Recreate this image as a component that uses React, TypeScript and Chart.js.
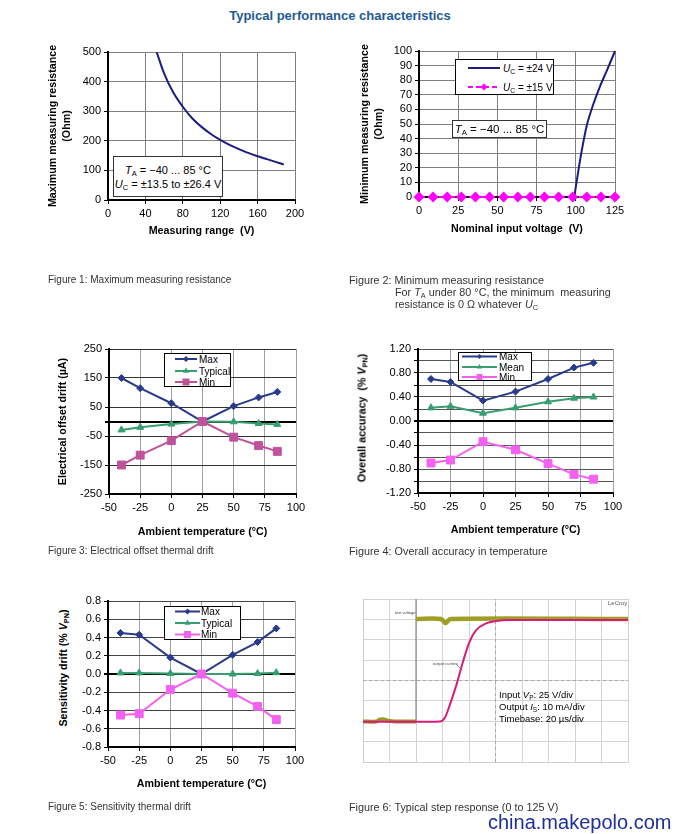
import React, { useEffect, useRef } from 'react';
import { Chart, registerables } from 'chart.js';

Chart.register(...registerables);

const FONT = "'Liberation Sans', Arial, Helvetica, sans-serif";

// ---------- Figure 1: maximum measuring resistance ----------
const fig1Voltage = [52, 60, 70, 80, 90, 100, 110, 120, 130, 140, 150, 160, 170, 180, 188];
const fig1Resistance = [500, 428, 362, 315, 276, 247, 223, 203, 186, 172, 159, 148, 138, 128, 120];

// ---------- Figure 2: minimum measuring resistance ----------
const fig2Voltage24 = [99, 103, 107, 111, 115.5, 120, 125];
const fig2Res24 = [0, 27, 49, 63, 76, 87, 100];
const fig2Voltage15 = [0, 9, 18, 27, 36, 45, 54, 63, 71, 80, 89, 98, 107, 116, 125];
const fig2Res15 = [0, 0, 0, 0, 0, 0, 0, 0, 0, 0, 0, 0, 0, 0, 0];

// ---------- Figures 3-5: temperature ----------
const temps = [-40, -25, 0, 25, 50, 70, 85];
const fig3Max = [150, 115, 63, 0, 53, 83, 102];
const fig3Typical = [-29, -20, -9, 0, -1, -7, -10];
const fig3Min = [-150, -116, -66, 0, -54, -83, -103];
const fig3YTicks = [-250, -150, -50, 0, 50, 150, 250];

const fig4Max = [0.7, 0.65, 0.34, 0.49, 0.7, 0.89, 0.97];
const fig4Mean = [0.22, 0.245, 0.13, 0.22, 0.32, 0.38, 0.4];
const fig4Min = [-0.7, -0.65, -0.345, -0.48, -0.71, -0.89, -0.97];
const fig4YTicks = [-1.2, -1.0, -0.8, -0.6, -0.4, -0.2, 0, 0.2, 0.4, 0.6, 0.8, 1.0, 1.2];
const fig4YLabeled = [-1.2, -0.8, -0.4, 0, 0.4, 0.8, 1.2];

const fig5Max = [0.45, 0.43, 0.18, 0, 0.21, 0.35, 0.5];
const fig5Typical = [0.012, 0.012, 0.005, 0, 0.0, 0.005, 0.015];
const fig5Min = [-0.45, -0.435, -0.17, 0, -0.21, -0.355, -0.5];
const fig5YTicks = [-0.8, -0.6, -0.4, -0.2, 0, 0.2, 0.4, 0.6, 0.8];

// ---------- Figure 6: step response (in screen divisions) ----------
const fig6PinkX = [0, 2.0, 2.9, 3.1, 3.27, 3.52, 3.77, 4.02, 4.27, 4.64, 5.03, 5.5, 10];
const fig6PinkY = [1.97, 1.97, 1.99, 2.2, 2.78, 3.76, 4.91, 5.9, 6.47, 6.8, 6.92, 6.97, 6.97];
const fig6YellowPreX = [0, 0.5, 0.62, 0.75, 0.95, 1.2, 2.0];
const fig6YellowPreY = [1.99, 1.99, 2.08, 2.1, 2.03, 1.99, 1.99];
const fig6YellowPostX = [2.0, 2.95, 3.11, 3.3, 10];
const fig6YellowPostY = [7.02, 7.02, 6.82, 7.02, 7.02];
const fig6TriggerX = [2, 2];
const fig6TriggerY = [1.99, 8];
const fig6CenterVX = [5, 5];
const fig6CenterVY = [0, 8];
const fig6CenterHX = [0, 10];
const fig6CenterHY = [4, 4];

const NAVY = '#1c1c82';
const MAX_C = '#283b8c';
const GREEN = '#369e70';
const MIN3 = '#c0529c';
const PINK = '#f460f0';

const pts = (xs: number[], ys: number[]) => xs.map((x, i) => ({ x, y: ys[i] }));

function axis(o: {
  horizontal: boolean;
  min: number;
  max: number;
  step?: number;
  size: number;
  title?: string | string[];
  gridColor: string;
  tickValues?: number[];
  fmt?: (v: number) => string;
  zero?: boolean;
}) {
  const s: any = {
    type: 'linear',
    position: o.horizontal ? 'bottom' : 'left',
    min: o.min,
    max: o.max,
    afterFit: (sc: any) => {
      if (o.horizontal) sc.height = o.size;
      else sc.width = o.size;
    },
    ticks: {
      stepSize: o.step,
      color: '#000',
      font: { family: FONT, size: 11 },
      padding: 3,
      autoSkip: false,
      maxRotation: 0,
      ...(o.fmt ? { callback: (v: any) => o.fmt!(Number(v)) } : {}),
    },
    grid: {
      color: o.zero ? (c: any) => (c.tick && Math.abs(c.tick.value) < 1e-9 ? '#000' : o.gridColor) : o.gridColor,
      lineWidth: o.zero ? (c: any) => (c.tick && Math.abs(c.tick.value) < 1e-9 ? 2 : 1) : 1,
      tickLength: 4,
      tickColor: '#000',
    },
    border: { display: true, color: '#000', width: 2 },
    title: o.title
      ? {
          display: true,
          text: o.title,
          color: '#000',
          font: { family: FONT, size: 10.7, weight: 'bold', lineHeight: 1.3 },
          padding: 0,
        }
      : { display: false },
  };
  if (o.tickValues) {
    const tv = o.tickValues;
    s.afterBuildTicks = (sc: any) => {
      sc.ticks = tv.map((v) => ({ value: v }));
    };
  }
  return s;
}

function baseOptions(pad: { top: number; right: number }, scales: any) {
  return {
    animation: false,
    responsive: true,
    maintainAspectRatio: false,
    events: [],
    layout: { padding: { left: 0, bottom: 0, top: pad.top, right: pad.right } },
    plugins: { legend: { display: false }, tooltip: { enabled: false }, title: { display: false } },
    scales,
  };
}

function series(xs: number[], ys: number[], color: string, style: any, radius: number) {
  return {
    data: pts(xs, ys),
    borderColor: color,
    backgroundColor: color,
    borderWidth: 2,
    pointStyle: style,
    pointRadius: radius,
    pointBorderWidth: 1,
    pointBorderColor: color,
    pointBackgroundColor: color,
    tension: 0,
    clip: false,
  };
}

function ChartBox(props: { left: number; top: number; width: number; height: number; config: () => any }) {
  const ref = useRef<HTMLCanvasElement>(null);
  useEffect(() => {
    const chart = new Chart(ref.current as HTMLCanvasElement, props.config());
    return () => chart.destroy();
  }, []);
  return (
    <div style={{ position: 'absolute', left: props.left, top: props.top, width: props.width, height: props.height }}>
      <canvas ref={ref} />
    </div>
  );
}

const subS: React.CSSProperties = { fontSize: '0.68em', verticalAlign: '-0.3em', lineHeight: 0, fontStyle: 'normal' };
const Sub = (p: { children: React.ReactNode }) => <span style={subS}>{p.children}</span>;

function Txt(p: { left: number; cy: number; size: number; children: React.ReactNode; style?: React.CSSProperties }) {
  const lh = Math.round(p.size * 1.3);
  return (
    <div
      style={{
        position: 'absolute',
        left: p.left,
        top: p.cy - lh / 2,
        fontSize: p.size,
        lineHeight: lh + 'px',
        whiteSpace: 'nowrap',
        ...p.style,
      }}
    >
      {p.children}
    </div>
  );
}

function Marker(p: { shape: string; color: string; x: number; y: number; r: number }) {
  const { x, y, r, color } = p;
  if (p.shape === 'diamond')
    return <polygon points={`${x},${y - r} ${x + r},${y} ${x},${y + r} ${x - r},${y}`} fill={color} />;
  if (p.shape === 'triangle')
    return <polygon points={`${x},${y - r} ${x + r * 0.87},${y + r * 0.5} ${x - r * 0.87},${y + r * 0.5}`} fill={color} />;
  if (p.shape === 'square') return <rect x={x - r} y={y - r} width={2 * r} height={2 * r} fill={color} />;
  return null;
}

type LegItem = { label: React.ReactNode; color: string; shape: string; r: number; cy: number; dash?: string };

function Legend(p: {
  left: number;
  top: number;
  width: number;
  height: number;
  x1: number;
  x2: number;
  textX: number;
  size: number;
  items: LegItem[];
}) {
  return (
    <div
      style={{
        position: 'absolute',
        left: p.left,
        top: p.top,
        width: p.width,
        height: p.height,
        border: '1px solid #000',
        background: '#fff',
        boxSizing: 'border-box',
      }}
    >
      <svg width={p.width} height={p.height} style={{ position: 'absolute', left: -1, top: -1, overflow: 'visible' }}>
        {p.items.map((it, i) => (
          <g key={i}>
            <line x1={p.x1} x2={p.x2} y1={it.cy} y2={it.cy} stroke={it.color} strokeWidth={2} strokeDasharray={it.dash} />
            <Marker shape={it.shape} color={it.color} x={(p.x1 + p.x2) / 2} y={it.cy} r={it.r} />
          </g>
        ))}
      </svg>
      {p.items.map((it, i) => (
        <Txt key={i} left={p.textX - 1} cy={it.cy - 1} size={p.size}>
          {it.label}
        </Txt>
      ))}
    </div>
  );
}

function Box(p: { left: number; top: number; width: number; height: number; children: React.ReactNode; size: number }) {
  return (
    <div
      style={{
        position: 'absolute',
        left: p.left,
        top: p.top,
        width: p.width,
        height: p.height,
        border: '1px solid #333',
        background: '#fff',
        boxSizing: 'border-box',
        display: 'flex',
        flexDirection: 'column',
        justifyContent: 'center',
        alignItems: 'center',
        fontSize: p.size,
        lineHeight: '14px',
        color: '#000',
      }}
    >
      {p.children}
    </div>
  );
}

function RotTitle(p: { cx: number; cy: number; children: React.ReactNode }) {
  return (
    <div
      style={{
        position: 'absolute',
        left: p.cx,
        top: p.cy,
        transform: 'translate(-50%, -50%) rotate(-90deg)',
        fontWeight: 'bold',
        fontSize: 10.7,
        whiteSpace: 'nowrap',
        color: '#000',
        lineHeight: '13px',
      }}
    >
      {p.children}
    </div>
  );
}

const fig1Config = () => ({
  type: 'line',
  data: {
    datasets: [
      { data: pts(fig1Voltage, fig1Resistance), borderColor: NAVY, borderWidth: 2, pointRadius: 0, cubicInterpolationMode: 'monotone' },
    ],
  },
  options: baseOptions(
    { top: 12, right: 15 },
    {
      x: axis({ horizontal: true, min: 0, max: 200, step: 40, size: 38, title: 'Measuring range  (V)', gridColor: '#808080' }),
      y: axis({
        horizontal: false,
        min: 0,
        max: 500,
        step: 100,
        size: 62,
        title: ['Maximum measuring resistance', '(Ohm)'],
        gridColor: '#808080',
      }),
    }
  ),
});

const fig2Config = () => ({
  type: 'line',
  data: {
    datasets: [
      {
        data: pts(fig2Voltage15, fig2Res15),
        borderColor: '#ff00ff',
        backgroundColor: '#ff00ff',
        borderWidth: 2,
        borderDash: [6, 4],
        pointStyle: 'rectRot',
        pointRadius: 4,
        pointBackgroundColor: '#ff00ff',
        pointBorderColor: '#ff00ff',
        clip: false,
      },
      { data: pts(fig2Voltage24, fig2Res24), borderColor: NAVY, borderWidth: 2, pointRadius: 0, tension: 0.2, clip: false },
    ],
  },
  options: baseOptions(
    { top: 11, right: 25 },
    {
      x: axis({ horizontal: true, min: 0, max: 125, step: 25, size: 39, title: 'Nominal input voltage  (V)', gridColor: '#808080' }),
      y: axis({
        horizontal: false,
        min: 0,
        max: 100,
        step: 10,
        size: 61,
        title: ['Minimum measuring resistance', '(Ohm)'],
        gridColor: '#808080',
      }),
    }
  ),
});

const fig3Config = () => ({
  type: 'line',
  data: {
    datasets: [
      series(temps, fig3Min, MIN3, 'rect', 5.6),
      series(temps, fig3Typical, GREEN, 'triangle', 4),
      series(temps, fig3Max, MAX_C, 'rectRot', 3.5),
    ],
  },
  options: baseOptions(
    { top: 14, right: 14 },
    {
      x: axis({ horizontal: true, min: -50, max: 100, step: 25, size: 45, title: 'Ambient temperature (°C)', gridColor: '#a0a0a0' }),
      y: axis({
        horizontal: false,
        min: -250,
        max: 250,
        size: 53,
        title: 'Electrical offset drift (µA)',
        gridColor: '#333',
        tickValues: fig3YTicks,
        fmt: (v) => (Math.abs(v) < 1e-9 ? '' : String(v)),
        zero: true,
      }),
    }
  ),
});

const fig4Config = () => ({
  type: 'line',
  data: {
    datasets: [
      series(temps, fig4Min, PINK, 'rect', 5.6),
      series(temps, fig4Mean, GREEN, 'triangle', 4),
      series(temps, fig4Max, MAX_C, 'rectRot', 3.5),
    ],
  },
  options: baseOptions(
    { top: 14, right: 17 },
    {
      x: axis({ horizontal: true, min: -50, max: 100, step: 25, size: 44, title: 'Ambient temperature (°C)', gridColor: '#a0a0a0' }),
      y: axis({
        horizontal: false,
        min: -1.2,
        max: 1.2,
        size: 48,
        gridColor: '#555',
        tickValues: fig4YTicks,
        fmt: (v) => (fig4YLabeled.some((t) => Math.abs(t - v) < 1e-9) ? v.toFixed(2) : ''),
        zero: true,
      }),
    }
  ),
});

const fig5Config = () => ({
  type: 'line',
  data: {
    datasets: [
      series(temps, fig5Min, PINK, 'rect', 5.6),
      series(temps, fig5Typical, GREEN, 'triangle', 4),
      series(temps, fig5Max, MAX_C, 'rectRot', 3.5),
    ],
  },
  options: baseOptions(
    { top: 11, right: 15 },
    {
      x: axis({ horizontal: true, min: -50, max: 100, step: 25, size: 44, title: 'Ambient temperature (°C)', gridColor: '#a0a0a0' }),
      y: axis({
        horizontal: false,
        min: -0.8,
        max: 0.8,
        size: 33,
        gridColor: '#444',
        tickValues: fig5YTicks,
        fmt: (v) => v.toFixed(1),
        zero: true,
      }),
    }
  ),
});

const scopeAxis = (max: number) => ({
  type: 'linear',
  min: 0,
  max,
  afterFit: (sc: any) => {
    if (sc.isHorizontal()) sc.height = 0;
    else sc.width = 0;
  },
  ticks: { display: false, stepSize: 1 },
  grid: { color: '#d4d4d4', drawTicks: false, lineWidth: 1 },
  border: { display: true, color: '#cfcfcf', width: 1 },
});

const fig6Config = () => ({
  type: 'line',
  data: {
    datasets: [
      {
        data: pts(fig6PinkX, fig6PinkY),
        borderColor: '#d81b78',
        borderWidth: 2,
        pointRadius: 0,
        cubicInterpolationMode: 'monotone',
      },
      { data: pts(fig6YellowPreX, fig6YellowPreY), borderColor: '#9a9a28', borderWidth: 4, pointRadius: 0, tension: 0.3 },
      { data: pts(fig6YellowPostX, fig6YellowPostY), borderColor: '#9f9f26', borderWidth: 4.5, pointRadius: 0, tension: 0.3 },
      { data: pts(fig6TriggerX, fig6TriggerY), borderColor: '#6f7a55', borderWidth: 1, pointRadius: 0 },
      { data: pts(fig6CenterVX, fig6CenterVY), borderColor: '#a8a8a8', borderWidth: 1, borderDash: [3, 3], pointRadius: 0 },
      { data: pts(fig6CenterHX, fig6CenterHY), borderColor: '#a8a8a8', borderWidth: 1, borderDash: [3, 3], pointRadius: 0 },
    ],
  },
  options: {
    animation: false,
    responsive: true,
    maintainAspectRatio: false,
    events: [],
    layout: { padding: 5 },
    plugins: { legend: { display: false }, tooltip: { enabled: false } },
    scales: { x: scopeAxis(10), y: scopeAxis(8) },
  },
});

export default function App() {
  const capL = 10;
  const capR = 10.8;
  return (
    <div
      style={{
        position: 'relative',
        width: 680,
        height: 834,
        background: '#fff',
        fontFamily: FONT,
        color: '#000',
        overflow: 'hidden',
      }}
    >
      <style>{'body{margin:0;background:#fff}'}</style>

      <div
        style={{
          position: 'absolute',
          left: 0,
          width: 680,
          top: 7,
          textAlign: 'center',
          fontWeight: 'bold',
          fontSize: 13,
          lineHeight: '17px',
          color: '#245a94',
        }}
      >
        Typical performance characteristics
      </div>

      {/* Figure 1 */}
      <ChartBox left={46} top={40} width={264} height={198} config={fig1Config} />
      <Box left={113} top={156} width={110} height={41} size={11}>
        <div>
          <i>T</i>
          <Sub>A</Sub> = −40 ... 85 °C
        </div>
        <div>
          <i>U</i>
          <Sub>C</Sub> = ±13.5 to ±26.4 V
        </div>
      </Box>

      {/* Figure 2 */}
      <ChartBox left={358} top={40} width={282} height={196} config={fig2Config} />
      <Legend
        left={455}
        top={59}
        width={99}
        height={36}
        x1={13}
        x2={45}
        textX={48}
        size={10}
        items={[
          {
            label: (
              <span>
                <i>U</i>
                <Sub>C</Sub> = ±24 V
              </span>
            ),
            color: NAVY,
            shape: 'none',
            r: 0,
            cy: 9,
          },
          {
            label: (
              <span>
                <i>U</i>
                <Sub>C</Sub> = ±15 V
              </span>
            ),
            color: '#ff00ff',
            shape: 'diamond',
            r: 3.5,
            cy: 28,
            dash: '5 3',
          },
        ]}
      />
      <Box left={452} top={120} width={95} height={18} size={11.5}>
        <div>
          <i>T</i>
          <Sub>A</Sub> = −40 ... 85 °C
        </div>
      </Box>

      {/* Figure 3 */}
      <ChartBox left={56} top={335} width={254} height={204} config={fig3Config} />
      <Legend
        left={164}
        top={353}
        width={67}
        height={34}
        x1={11}
        x2={33}
        textX={35}
        size={10}
        items={[
          { label: 'Max', color: MAX_C, shape: 'diamond', r: 3, cy: 6 },
          { label: 'Typical', color: GREEN, shape: 'triangle', r: 3.5, cy: 18 },
          { label: 'Min', color: MIN3, shape: 'square', r: 3.5, cy: 29 },
        ]}
      />

      {/* Figure 4 */}
      <ChartBox left={370} top={335} width={260} height={202} config={fig4Config} />
      <RotTitle cx={362} cy={418}>
        Overall accuracy&nbsp; (% <i>V</i>
        <Sub>PN</Sub>)
      </RotTitle>
      <Legend
        left={458}
        top={352}
        width={74}
        height={29}
        x1={4}
        x2={39}
        textX={41}
        size={10}
        items={[
          { label: 'Max', color: MAX_C, shape: 'diamond', r: 2.5, cy: 4.5 },
          { label: 'Mean', color: GREEN, shape: 'triangle', r: 3, cy: 15 },
          { label: 'Min', color: PINK, shape: 'square', r: 3, cy: 25 },
        ]}
      />

      {/* Figure 5 */}
      <ChartBox left={75} top={590} width={235} height={201} config={fig5Config} />
      <RotTitle cx={63} cy={668}>
        Sensitivity drift (% <i>V</i>
        <Sub>PN</Sub>)
      </RotTitle>
      <Legend
        left={164}
        top={606}
        width={77}
        height={34}
        x1={11}
        x2={36}
        textX={37}
        size={10}
        items={[
          { label: 'Max', color: MAX_C, shape: 'diamond', r: 3, cy: 5.5 },
          { label: 'Typical', color: GREEN, shape: 'triangle', r: 3.5, cy: 17 },
          { label: 'Min', color: PINK, shape: 'square', r: 3.5, cy: 28.5 },
        ]}
      />

      {/* Figure 6 */}
      <ChartBox left={358} top={594} width={275} height={173} config={fig6Config} />
      <Txt left={395} cy={612} size={4} style={{ color: '#444' }}>
        test voltage
      </Txt>
      <Txt left={433} cy={663} size={4} style={{ color: '#444' }}>
        output current
      </Txt>
      <svg width={680} height={834} style={{ position: 'absolute', left: 0, top: 0, pointerEvents: 'none' }}>
        <line x1={456} y1={664} x2={462} y2={670} stroke="#666" strokeWidth={0.7} />
      </svg>
      <Txt left={608} cy={603} size={6} style={{ color: '#555' }}>
        LeCroy
      </Txt>
      <div style={{ position: 'absolute', left: 499, top: 689, fontSize: 9.5, lineHeight: '12px', whiteSpace: 'nowrap' }}>
        <div>
          Input <i>V</i>
          <Sub>P</Sub>: 25 V/div
        </div>
        <div>
          Output <i>I</i>
          <Sub>S</Sub>: 10 mA/div
        </div>
        <div>Timebase: 20 µs/div</div>
      </div>

      {/* Captions */}
      <Txt left={48} cy={279} size={capL} style={{ color: '#333' }}>
        Figure 1: Maximum measuring resistance
      </Txt>
      <Txt left={349} cy={280} size={capR} style={{ color: '#333' }}>
        Figure 2: Minimum measuring resistance
      </Txt>
      <Txt left={395} cy={292} size={capR} style={{ color: '#333' }}>
        For <i>T</i>
        <Sub>A</Sub> under 80 °C, the minimum&nbsp; measuring
      </Txt>
      <Txt left={395} cy={304} size={capR} style={{ color: '#333' }}>
        resistance is 0 Ω whatever <i>U</i>
        <Sub>C</Sub>
      </Txt>
      <Txt left={48} cy={550} size={capL} style={{ color: '#333' }}>
        Figure 3: Electrical offset thermal drift
      </Txt>
      <Txt left={349} cy={551} size={capR} style={{ color: '#333' }}>
        Figure 4: Overall accuracy in temperature
      </Txt>
      <Txt left={48} cy={806} size={capL} style={{ color: '#333' }}>
        Figure 5: Sensitivity thermal drift
      </Txt>
      <Txt left={349} cy={807} size={capR} style={{ color: '#333' }}>
        Figure 6: Typical step response (0 to 125 V)
      </Txt>

      <Txt left={488} cy={822} size={20} style={{ color: '#1e2f9a' }}>
        china.makepolo.com
      </Txt>
    </div>
  );
}
